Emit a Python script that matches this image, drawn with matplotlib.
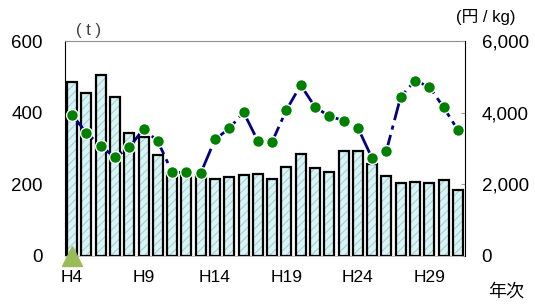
import matplotlib
matplotlib.use('Agg')
import matplotlib.pyplot as plt

plt.rcParams['font.family'] = ['Liberation Sans', 'Noto Sans CJK JP']
plt.rcParams['hatch.linewidth'] = 0.8

# 年次 (平成)
years = [4, 5, 6, 7, 8, 9, 10, 11, 12, 13, 14, 15, 16, 17, 18, 19,
         20, 21, 22, 23, 24, 25, 26, 27, 28, 29, 30, 31]
# 数量 (t)
volume = [485, 455, 505, 445, 343, 332, 282, 232, 228, 225, 215, 220, 225, 229,
          215, 249, 284, 245, 234, 294, 294, 257, 223, 205, 207, 205, 211, 183]
# 単価 (円/kg)
price = [3935, 3440, 3070, 2750, 3030, 3550, 3200, 2335, 2335, 2310, 3255, 3560,
         4010, 3210, 3190, 4075, 4770, 4160, 3900, 3780, 3580, 2725, 2940, 4445,
         4890, 4725, 4150, 3515]
tick_years = [4, 9, 14, 19, 24, 29]

fig = plt.figure(figsize=(5.35, 3.04), dpi=100)
ax = fig.add_axes([65 / 535, 48 / 304, 400 / 535, 215 / 304])

# 棒グラフ (ハッチ + 黒枠)
ax.bar(years, volume, width=0.7, color='#d8f4f4', edgecolor='#a8d0d4',
       hatch='////', linewidth=0, zorder=2)
ax.bar(years, volume, width=0.7, fill=False, edgecolor='black',
       linewidth=1.6, zorder=3)
ax.plot([years[0]], [0], marker='^', markersize=15, color='#9bbb59',
        clip_on=False, zorder=6)

ax.set_xlim(3.5, 31.5)
ax.set_ylim(0, 600)
ax.set_yticks([0, 200, 400, 600])
ax.set_xticks(tick_years)
ax.set_xticklabels(['H%d' % y for y in tick_years])
ax.tick_params(axis='y', direction='in', length=3, color='#a0a0a0',
               labelsize=13.5, pad=16)
ax.tick_params(axis='x', length=0, labelsize=12.5, pad=10)
ax.spines['left'].set_color('black')
ax.spines['top'].set_color('#909090')
ax.spines['bottom'].set_color('#c0c0c0')
ax.spines['right'].set_visible(False)

ax2 = ax.twinx()
ax2.plot(years, price, color='#000080', linewidth=2,
         linestyle=(0, (8, 2, 1.5, 2)), marker='o', markersize=8.5,
         markerfacecolor='#008000', markeredgecolor='white',
         markeredgewidth=1, zorder=5)
ax2.set_ylim(0, 6000)
ax2.set_yticks([0, 2000, 4000, 6000])
ax2.set_yticklabels(['0', '2,000', '4,000', '6,000'])
ax2.tick_params(axis='y', direction='in', length=3, color='#a0a0a0',
                labelsize=13.5, pad=12)
ax2.spines['right'].set_color('black')
ax2.spines['left'].set_visible(False)
ax2.spines['top'].set_visible(False)
ax2.spines['bottom'].set_visible(False)

fig.text(89 / 535, 1 - 31 / 304, '( t )', fontsize=12, color='#404040',
         ha='center', va='center')
fig.text(486 / 535, 1 - 17 / 304, '(円 / kg)', fontsize=12,
         ha='center', va='center')
fig.text(506 / 535, 1 - 292 / 304, '年次', fontsize=13,
         ha='center', va='center')

fig.savefig('out.png', dpi=100)
